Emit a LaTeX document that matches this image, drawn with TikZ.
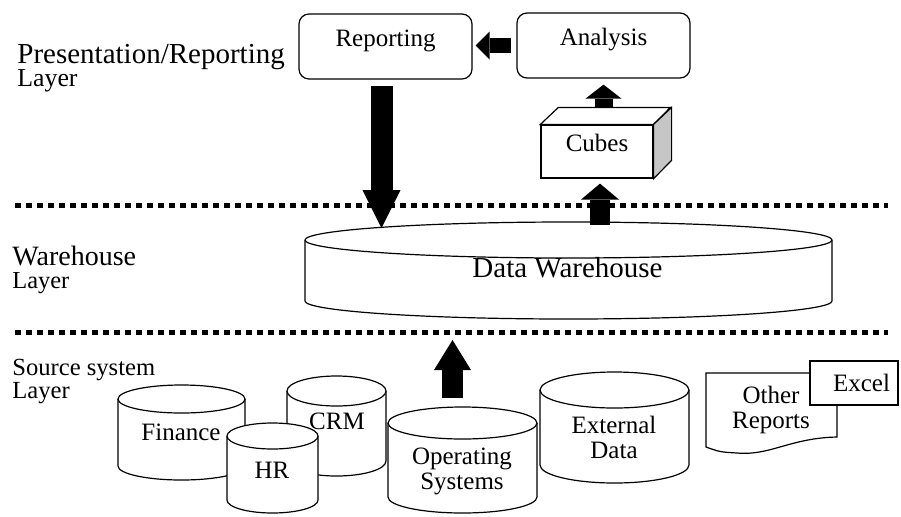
\documentclass[tikz,border=0pt]{standalone}
\usepackage{fontspec}
\setmainfont{Liberation Serif}
\usepackage{xcolor}
\usepackage{tikz}
\usetikzlibrary{arrows.meta}
\AtBeginDocument{\lineskiplimit=-20pt\relax}

% database drum: name, left x, right x, top y, bottom y, end radius
\newcommand{\dbcyl}[6]{%
    \pgfmathsetmacro\cylrx{(#3-#2)/2}
    \filldraw[cylline] (#2,-#4) -- (#2,-#5)
        arc[start angle=180,end angle=360,x radius=\cylrx,y radius=#6]
        -- (#3,-#4) arc[start angle=0,end angle=180,x radius=\cylrx,y radius=#6] -- cycle;
    \draw[cylline] (#2,-#4) arc[start angle=180,end angle=360,x radius=\cylrx,y radius=#6];
    \coordinate (#1-top) at ({(#2+#3)/2},{-#4+#6});
    \coordinate (#1-bot) at ({(#2+#3)/2},{-#5-#6});
}

\tikzset{
    cylline/.style={line width=0.6pt, draw=black, fill=white},
    txt/.style={font=\fontsize{12.5pt}{12.5pt}\selectfont, align=center, inner sep=0pt},
    bigtxt/.style={font=\fontsize{14.5pt}{15pt}\selectfont, inner sep=0pt},
    layertxt/.style={align=left, inner sep=0pt, anchor=west},
    topbox/.style={draw, line width=0.6pt, rounded corners=5pt, minimum width=86.5pt,
        inner sep=0pt, text height=16pt, text depth=16.5pt, font=\fontsize{12.5pt}{12.5pt}\selectfont},
    layerline/.style={line width=2.5pt, dash pattern=on 3pt off 2.5pt},
    blockarrow/.style n args={3}{line width=#1, -{Triangle[width=#2,length=#3,line width=0pt]}}
}

\begin{document}
\begin{tikzpicture}[x=0.5pt,y=0.5pt]
    \useasboundingbox (0,0) rectangle (901,-516);

    % layer names
    \node[layertxt, font=\fontsize{12.9pt}{11.5pt}\selectfont] (prl) at (17,-68)
        {{\fontsize{14.5pt}{11.5pt}\selectfont Presentation/Reporting}\\Layer};
    \node[layertxt, font=\fontsize{12.2pt}{11.5pt}\selectfont] (whl) at (12,-270)
        {{\fontsize{14pt}{11.5pt}\selectfont Warehouse}\\Layer};
    \node[layertxt, font=\fontsize{12.3pt}{12pt}\selectfont] (srl) at (12,-381.5)
        {Source system\\Layer};

    % layer borders
    \draw[layerline] (15,-205) -- (888,-205);
    \draw[layerline] (15,-332) -- (888,-332);

    % presentation layer
    \node[topbox] (rep) at (385.5,-46.5) {Reporting};
    \node[topbox] (ana) at (603.5,-45.5) {Analysis};
    \node[draw, line width=0.6pt, fill=white, minimum width=56pt, inner sep=0pt,
        text height=13pt, text depth=13.5pt, font=\fontsize{12.5pt}{12.5pt}\selectfont]
        (cub) at (597,-151.5) {Cubes};
    \filldraw[line width=0.6pt, fill=white] (cub.north west) -- ++(18,17) -- ++(112,0) -- (cub.north east) -- cycle;
    \filldraw[line width=0.6pt, fill=gray!45] (cub.north east) -- ++(18,17) -- ++(0,-53) -- (cub.south east) -- cycle;
    \path (cub.north) ++(18,17) coordinate (cub-back);

    % warehouse layer
    \dbcyl{dw}{305}{832}{240}{301}{18}
    \node[bigtxt] (dwt) at (567.5,-268) {Data Warehouse};

    % source systems
    \dbcyl{fin}{118}{245}{399}{466}{14}
    \node[txt] (fint) at (181,-432) {Finance};
    \dbcyl{crm}{287}{386}{391}{461}{15}
    \node[txt] (crmt) at (337,-421) {CRM};
    \dbcyl{hr}{227}{318}{436}{500}{13}
    \node[txt] (hrt) at (272,-470) {HR};
    \dbcyl{os}{388}{537}{423}{497}{16}
    \node[txt] (ost) at (462,-471) {Operating\\Systems};
    \dbcyl{ext}{540}{689}{390}{465}{18}
    \node[txt] (extt) at (614,-437) {External\\Data};

    \filldraw[line width=0.6pt, fill=white] (706,-373) -- (837,-373) -- (837,-437)
        .. controls (790,-438) and (770,-456) .. (737,-453)
        .. controls (720,-452) .. (706,-447) -- cycle;
    \node[txt] (oth) at (771,-410) {Other\\Reports};
    \node[draw, line width=0.6pt, fill=white, minimum height=22pt, text width=36pt, align=right,
        inner xsep=4pt, inner ysep=0pt, font=\fontsize{12.5pt}{12.5pt}\selectfont]
        (exc) at (854,-383) {Excel};

    % data flow
    \draw[blockarrow={7.5pt}{14pt}{7pt}, shorten <=2.5pt, shorten >=1.5pt] (ana.west) -- (ana.west -| rep.east);
    \draw[blockarrow={11pt}{19pt}{19pt}, shorten <=3pt, shorten >=-3pt] ([xshift=-2pt]rep.south) -- ([xshift=-2pt]rep.south |- dw-top);
    \draw[blockarrow={9pt}{18pt}{7pt}, shorten >=3pt] (ana.south |- cub-back) -- (ana.south);
    \draw[blockarrow={10pt}{19pt}{8pt}, shorten <=-1.5pt, shorten >=2.5pt] ([xshift=1.5pt]cub.south |- dw-top) -- ([xshift=1.5pt]cub.south);
    \draw[blockarrow={10.5pt}{18.5pt}{15pt}, shorten <=4.5pt, shorten >=10.5pt] ([xshift=-5pt]os-top) -- ([xshift=-5pt]os-top |- dw-bot);
\end{tikzpicture}
\end{document}
